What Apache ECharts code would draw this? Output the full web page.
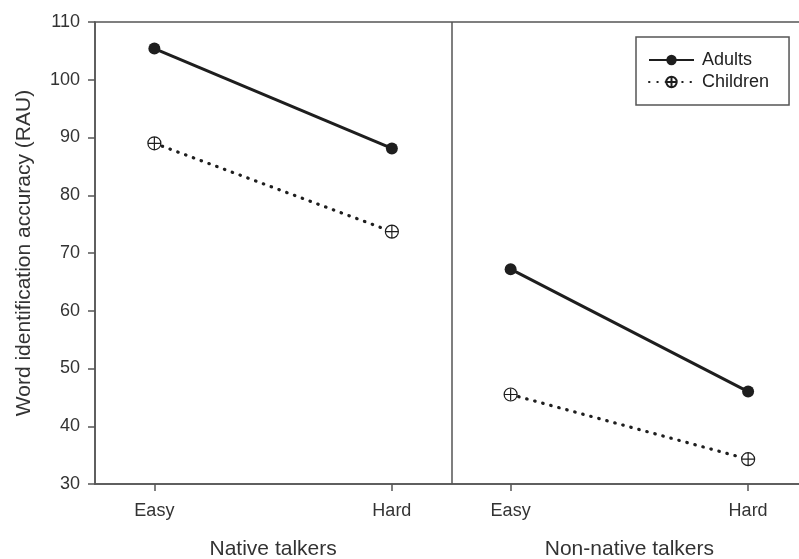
<!DOCTYPE html>
<html>
<head>
<meta charset="utf-8">
<script src="https://cdn.jsdelivr.net/npm/echarts@6/dist/echarts.min.js"></script>
<style>html,body{margin:0;padding:0;background:#fff;}#c{width:799px;height:559px;}</style>
</head>
<body>
<div id="c"></div>
<script>
const groups = ['Native talkers', 'Non-native talkers'];
const conditions = ['Easy', 'Hard'];
const adults = [[105.4, 88.1], [67.2, 46.0]];
const children = [[89.0, 73.7], [45.5, 34.3]];
const yTicks = [30, 40, 50, 60, 70, 80, 90, 100, 110];

const FONT = 'Liberation Sans, Arial, sans-serif';
const INK = '#1e1e1e';
const AXIS = '#555';
const TEXT = '#333';
const GROUP_W = 1.5; // axis units per panel
const pos = (g, c) => g * GROUP_W + c;

const condTicks = [], condLabel = {};
groups.forEach((g, gi) => conditions.forEach((c, ci) => { const p = pos(gi, ci); condTicks.push(p); condLabel[p] = c; }));
const groupTicks = [], groupLabel = {};
groups.forEach((g, gi) => { const p = pos(gi, 0.5); groupTicks.push(p); groupLabel[p] = g; });

const plusCircle = 'path://M0,10 A10,10 0 1,1 20,10 A10,10 0 1,1 0,10 Z M1,10 L19,10 M10,1 L10,19';

const series = [];
groups.forEach((g, gi) => {
  series.push({
    name: 'Adults', type: 'line', z: 3,
    data: conditions.map((c, ci) => [pos(gi, ci), adults[gi][ci]]),
    symbol: 'circle', symbolSize: 12,
    itemStyle: { color: INK },
    lineStyle: { color: INK, width: 3 },
    emphasis: { disabled: true },
    markLine: gi === 0 ? {
      silent: true, symbol: ['none', 'none'], label: { show: false },
      lineStyle: { color: AXIS, width: 1.5, type: 'solid' },
      data: [{ xAxis: GROUP_W - 0.25 }]
    } : undefined
  });
  series.push({
    name: 'Children', type: 'line', z: 2,
    data: conditions.map((c, ci) => [pos(gi, ci), children[gi][ci]]),
    symbol: plusCircle, symbolSize: 13, symbolKeepAspect: true,
    itemStyle: { color: '#fff', borderColor: INK, borderWidth: 1.2 },
    lineStyle: { color: INK, width: 3.2, type: [0.5, 7.8], cap: 'round' },
    emphasis: { disabled: true }
  });
});

const chart = echarts.init(document.getElementById('c'));
chart.setOption({
  animation: false,
  textStyle: { fontFamily: FONT },
  grid: { left: 95, top: 22, width: 712.5, height: 462, outerBoundsMode: 'none', containLabel: false,
          show: true, borderColor: AXIS, borderWidth: 1.5 },
  legend: {
    orient: 'vertical', left: 636, top: 37,
    data: ['Adults', 'Children'],
    itemWidth: 45, itemHeight: 13, itemGap: 4,
    padding: [14, 20, 14, 12],
    borderColor: AXIS, borderWidth: 1.5,
    textStyle: { fontSize: 18, color: '#222', fontFamily: FONT, padding: [0, 0, 0, 3] },
    selectedMode: false
  },
  xAxis: [{
    type: 'value', min: -0.25, max: 2 * GROUP_W - 0.25,
    axisLine: { show: true, onZero: false, lineStyle: { color: AXIS, width: 1.5 } },
    axisTick: { show: true, length: 7, customValues: condTicks, lineStyle: { color: AXIS, width: 1.5 } },
    axisLabel: { customValues: condTicks, formatter: v => condLabel[v] || '', fontSize: 18, color: TEXT, margin: 18, fontFamily: FONT },
    splitLine: { show: false }
  }, {
    type: 'value', min: -0.25, max: 2 * GROUP_W - 0.25, position: 'bottom',
    axisLine: { show: false, onZero: false }, axisTick: { show: false },
    axisLabel: { customValues: groupTicks, formatter: v => groupLabel[v] || '', fontSize: 21, color: TEXT, margin: 55, fontFamily: FONT },
    splitLine: { show: false }
  }],
  yAxis: {
    type: 'value', min: yTicks[0], max: yTicks[yTicks.length - 1], interval: 10,
    name: 'Word identification accuracy (RAU)', nameLocation: 'middle', nameRotate: 90, nameGap: 60,
    nameTextStyle: { fontSize: 21, color: TEXT, fontFamily: FONT },
    axisLine: { show: true, onZero: false, lineStyle: { color: AXIS, width: 1.5 } },
    axisTick: { show: true, length: 7, lineStyle: { color: AXIS, width: 1.5 } },
    axisLabel: { fontSize: 18, color: TEXT, margin: 15, fontFamily: FONT },
    splitLine: { show: false }
  },
  series: series
});
</script>
</body>
</html>
